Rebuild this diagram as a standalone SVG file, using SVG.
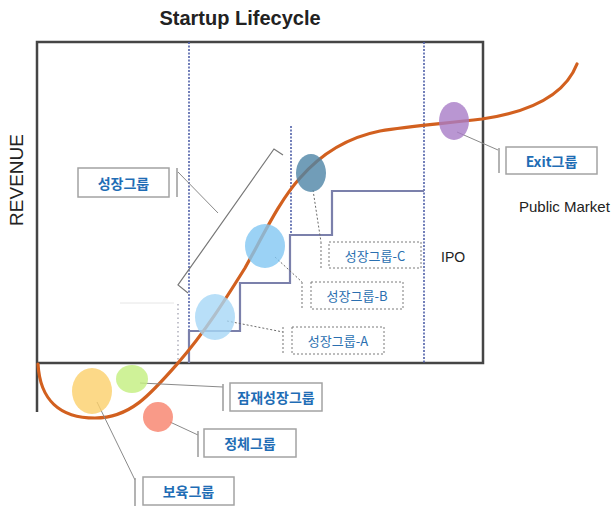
<svg xmlns="http://www.w3.org/2000/svg" width="615" height="506" viewBox="0 0 615 506">
  <style>
    .frame { fill: none; stroke: #454545; stroke-width: 2.5; }
    .phase { fill: none; stroke: #4f5fa8; stroke-width: 1.6; stroke-dasharray: 2 1.5; }
    .step { fill: none; stroke: #7b80ab; stroke-width: 2.2; }
    .curve { fill: none; stroke: #d2601f; stroke-width: 3.2; stroke-linecap: round; }
    .lead { fill: none; stroke: #8a8a8a; stroke-width: 1; }
    .lead-d { fill: none; stroke: #6a6a6a; stroke-width: 1; stroke-dasharray: 2 2; }
    .bar { fill: none; stroke: #9a9a9a; stroke-width: 1.5; }
    .bar-d { fill: none; stroke: #8a8a8a; stroke-width: 1.2; stroke-dasharray: 2 2; }
    .box { fill: #ffffff; stroke: #a3a3a3; stroke-width: 1.5; }
    .box-d { fill: #ffffff; stroke: #7a7a7a; stroke-width: 1; stroke-dasharray: 2 2; }
    .lbl { font-family: "Noto Sans CJK KR", "Noto Sans", sans-serif; font-weight: bold; font-size: 14px; fill: #1f6db5; text-anchor: middle; dominant-baseline: central; }
    .lbl-d { font-family: "Noto Sans CJK KR", "Noto Sans", sans-serif; font-size: 13px; fill: #2a6fb0; text-anchor: middle; dominant-baseline: central; }
    .plain { font-family: "Liberation Sans", Arial, sans-serif; fill: #222222; }
    .blob { opacity: 0.8; }
  </style>

  <!-- title and axis captions -->
  <text class="plain" x="240" y="25" font-size="20" font-weight="bold" text-anchor="middle">Startup Lifecycle</text>
  <text class="plain" x="23" y="180" font-size="19" text-anchor="middle" transform="rotate(-90 23 180)">REVENUE</text>
  <text class="plain" x="519" y="212" font-size="15">Public Market</text>
  <text class="plain" x="441" y="262" font-size="14">IPO</text>

  <!-- chart frame and axes -->
  <g id="frame">
    <path class="frame" d="M37,412 V42 H483 V363 H37"/>
    <line x1="189" y1="42" x2="189" y2="363" class="phase"/>
    <line x1="424" y1="42" x2="424" y2="363" class="phase"/>
    <line x1="291" y1="126" x2="291" y2="235" class="phase"/>
    <line x1="178" y1="304" x2="178" y2="363" stroke="#9a9aaa" stroke-width="1.2" stroke-dasharray="1.5 3"/>
    <line x1="120" y1="303" x2="174" y2="303" stroke="#e6e6e6" stroke-width="1"/>
  </g>

  <!-- funding stair steps -->
  <path class="step" d="M189,363 V331 H240 V283 H290 V235 H332 V191 H424"/>

  <!-- growth bracket -->
  <path id="growth-bracket" fill="none" stroke="#777" stroke-width="1.2" d="M188,293 L178,285 L274,149 L283,155"/>

  <!-- revenue curve -->
  <path class="curve" d="M38,364 C40,400 60,418 95,418 C130,418 150,395 178,363 C205,332 225,300 245,268 C265,232 280,200 300,178 C320,155 345,138 380,131 C410,126 440,124 482,119 C530,112 565,95 577,64"/>

  <!-- connectors -->
  <g id="connectors">
    <line class="lead" x1="178" y1="172" x2="218" y2="213"/>
    <line class="lead" x1="457" y1="132" x2="498" y2="150"/>
    <line class="lead" x1="140" y1="383" x2="223" y2="387"/>
    <line class="lead" x1="170" y1="422" x2="198" y2="435"/>
    <line class="lead" x1="97" y1="402" x2="135" y2="480"/>
    <line class="lead-d" x1="313" y1="190" x2="321" y2="242"/>
    <line class="lead-d" x1="275" y1="257" x2="302" y2="282"/>
    <line class="lead-d" x1="227" y1="321" x2="283" y2="332"/>
  </g>

  <!-- company groups -->
  <g id="group-incubate">
    <ellipse class="blob" cx="92" cy="391" rx="20" ry="23" fill="#fbcf6a"/>
    <line class="bar" x1="135" y1="478" x2="135" y2="506"/>
    <rect class="box" x="143" y="477" width="91" height="28"/>
    <text class="lbl" x="188.5" y="491">보육그룹</text>
  </g>

  <g id="group-potential">
    <ellipse class="blob" cx="132" cy="379" rx="16" ry="14" fill="#c3ef7e"/>
    <line class="bar" x1="223" y1="384" x2="223" y2="411"/>
    <rect class="box" x="230" y="383" width="92" height="28"/>
    <text class="lbl" x="276" y="397">잠재성장그룹</text>
  </g>

  <g id="group-stagnant">
    <ellipse class="blob" cx="158" cy="417" rx="15" ry="15" fill="#f8816a"/>
    <line class="bar" x1="198" y1="431" x2="198" y2="457"/>
    <rect class="box" x="204" y="429" width="92" height="28"/>
    <text class="lbl" x="250" y="443">정체그룹</text>
  </g>

  <g id="group-growth">
    <line class="bar" x1="177" y1="168" x2="177" y2="197"/>
    <rect class="box" x="78" y="168" width="91" height="29"/>
    <text class="lbl" x="123.5" y="182.5">성장그룹</text>
  </g>

  <g id="group-growth-a">
    <ellipse class="blob" cx="215" cy="317" rx="20" ry="23" fill="#a6d7f6"/>
    <line class="bar-d" x1="283" y1="327" x2="283" y2="354"/>
    <rect class="box-d" x="292" y="327" width="92" height="27"/>
    <text class="lbl-d" x="338" y="340.5">성장그룹-A</text>
  </g>

  <g id="group-growth-b">
    <ellipse class="blob" cx="265" cy="246" rx="20" ry="22" fill="#82c7f2"/>
    <line class="bar-d" x1="302" y1="282" x2="302" y2="308"/>
    <rect class="box-d" x="311" y="282" width="92" height="27"/>
    <text class="lbl-d" x="357" y="295.5">성장그룹-B</text>
  </g>

  <g id="group-growth-c">
    <ellipse class="blob" cx="311" cy="173" rx="15" ry="19" fill="#4e84a6"/>
    <line class="bar-d" x1="321" y1="242" x2="321" y2="268"/>
    <rect class="box-d" x="329" y="242" width="92" height="26"/>
    <text class="lbl-d" x="375" y="255">성장그룹-C</text>
  </g>

  <g id="group-exit">
    <ellipse class="blob" cx="454" cy="121" rx="15" ry="19" fill="#a77cc7"/>
    <line class="bar" x1="499" y1="148" x2="499" y2="173"/>
    <rect class="box" x="506" y="147" width="91" height="27"/>
    <text class="lbl" x="551.5" y="160.5">Exit그룹</text>
  </g>
</svg>
